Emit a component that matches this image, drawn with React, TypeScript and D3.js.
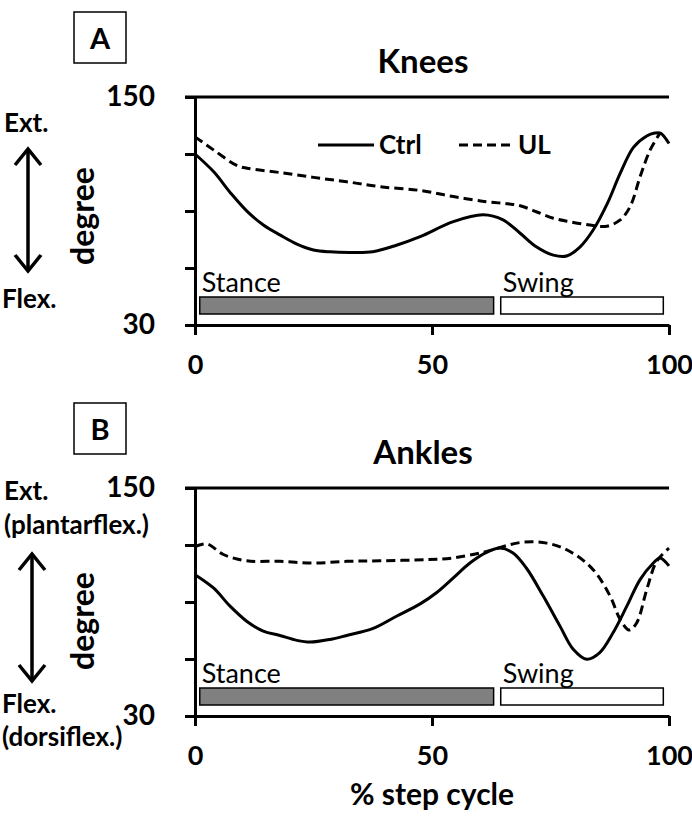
import * as d3 from 'd3'
import { useEffect, useRef } from 'react'

const W = 692, H = 827
const FONT = 'Lato, "Open Sans", sans-serif'

// % step cycle vs joint angle (deg)
const kneeCtrl = [
  [0, 120], [4, 110.5], [7.5, 99.5], [11, 89.8], [14.5, 82.5], [18, 77.3], [21.5, 72.6],
  [25, 69.5], [28.5, 68.5], [33, 68.2], [37.5, 68.6], [42.5, 72], [47.5, 76.5], [54.5, 84.4],
  [60.8, 88], [65, 85.3], [68.6, 78.3], [72, 71.2], [75.6, 66.8], [78.4, 66.3], [81.2, 71],
  [84, 80], [87, 94], [89.7, 109.8], [92.5, 123.5], [95.3, 129.5], [97, 131], [98.2, 131], [100, 125.5],
]
const kneeUL = [
  [0, 129], [4, 122], [8.8, 114], [11, 112.5], [18, 110.2], [25, 107.7], [32, 105.4],
  [39, 102.8], [47.5, 100.8], [54.5, 97.6], [61.5, 94.9], [66, 93.8], [68.6, 92.8], [72, 89.6],
  [75.6, 86.2], [79, 84.4], [83.3, 82.6], [86.9, 82], [89.7, 85.3], [91.8, 92.3], [93.9, 108],
  [96, 122], [98.1, 131],
]
const ankleCtrl = [
  [0, 104.4], [3.9, 97.4], [7.4, 87.8], [10.9, 79.9], [14.4, 74.7], [17.9, 72.4], [21.5, 69.8],
  [24.3, 68.9], [28.5, 70.3], [32, 72.4], [37.6, 76.1], [42.5, 82.5], [47.5, 89], [51, 95],
  [54.5, 102.7], [58, 110.5], [61.5, 116.1], [64.3, 118.4], [67.1, 115.8], [69.9, 107.9],
  [73.5, 93], [77, 77.3], [79.8, 65.1], [82.6, 59.9], [85.4, 63.4], [88.2, 73.8], [91.1, 87.8],
  [93.9, 101.8], [96.7, 110.5], [98.1, 113.2], [100, 109],
]
const ankleUL = [
  [0, 119.2], [2.5, 120.6], [6, 115], [10.9, 111.7], [17.9, 111.4], [25, 110.5], [32, 111.4],
  [39, 111.7], [49, 112.3], [54.5, 113.2], [61.5, 116.6], [68.6, 121.3], [74.2, 121],
  [79.1, 116.6], [84, 107], [87.6, 93], [89.7, 80.8], [91.6, 75.2], [93.2, 79.1], [95.3, 96.5],
  [97.4, 111.4], [100, 118.4],
]

const phases = [
  { name: 'Stance', from: 1, to: 63, fill: '#808080' },
  { name: 'Swing', from: 64.5, to: 98.8, fill: '#ffffff' },
]
const yTicks = [30, 60, 90, 120, 150]
const xTicks = [0, 50, 100]

const panels = [
  { tag: 'A', title: 'Knees', ctrl: kneeCtrl, ul: kneeUL, off: 0, legend: true,
    ext: ['Ext.'], flex: ['Flex.'] },
  { tag: 'B', title: 'Ankles', ctrl: ankleCtrl, ul: ankleUL, off: 391, legend: false,
    ext: ['Ext.', '(plantarflex.)'], flex: ['Flex.', '(dorsiflex.)'] },
]

const x = d3.scaleLinear().domain([0, 100]).range([195, 669])

const chart = (node: SVGSVGElement) => {
  const svg = d3.select(node)
  svg.selectAll('*').remove()
  svg.attr('font-family', FONT)

  panels.forEach(p => {
    const g = svg.append('g').attr('transform', `translate(0,${p.off})`)
    const y = d3.scaleLinear().domain([30, 150]).range([325, 97])

    // letter box
    g.append('rect').attr('x', 74).attr('y', 12).attr('width', 52).attr('height', 51)
      .attr('fill', 'none').attr('stroke', '#000').attr('stroke-width', 1.5)
    g.append('text').attr('x', 100).attr('y', 49).attr('text-anchor', 'middle')
      .attr('font-size', 29).attr('font-weight', 700).text(p.tag)

    g.append('text').attr('x', 423).attr('y', 73).attr('text-anchor', 'middle')
      .attr('font-size', 33).attr('font-weight', 700).text(p.title)

    // y axis
    const ya = g.append('g').attr('transform', `translate(${x(0)},0)`)
      .call(d3.axisLeft(y).tickValues(yTicks).tickSize(10).tickSizeOuter(0).tickPadding(30)
        .tickFormat(d => (d === 30 || d === 150 ? String(d) : '')))
    ya.select('.domain').attr('stroke-width', 3)
    ya.selectAll('.tick line').attr('stroke-width', 3)
    ya.selectAll('.tick text').attr('font-size', 28).attr('font-weight', 700)
      .attr('font-family', FONT).attr('fill', '#000')

    // top line at 150
    g.append('line').attr('x1', x(0) - 10).attr('x2', x(100))
      .attr('y1', y(150)).attr('y2', y(150)).attr('stroke', '#000').attr('stroke-width', 3)

    // x axis
    const xa = g.append('g').attr('transform', `translate(0,${y(30)})`)
      .call(d3.axisBottom(x).tickValues(xTicks).tickSize(10).tickSizeOuter(0).tickPadding(20))
    xa.select('.domain').attr('stroke-width', 3)
    xa.selectAll('.tick line').attr('stroke-width', 3)
    xa.selectAll('.tick text').attr('font-size', 27).attr('font-weight', 700)
      .attr('font-family', FONT).attr('fill', '#000')

    // phase bars
    phases.forEach(ph => {
      g.append('rect').attr('x', x(ph.from)).attr('y', y(30) - 28)
        .attr('width', x(ph.to) - x(ph.from)).attr('height', 17)
        .attr('fill', ph.fill).attr('stroke', '#000').attr('stroke-width', 1.5)
      g.append('text').attr('x', x(ph.from) + 2).attr('y', y(30) - 33)
        .attr('font-size', 27).text(ph.name)
    })

    // curves
    const line = d3.line<number[]>().x(d => x(d[0])).y(d => y(d[1]))
      .curve(d3.curveCatmullRom.alpha(0.5))
    g.append('path').datum(p.ul).attr('d', line).attr('fill', 'none')
      .attr('stroke', '#000').attr('stroke-width', 3).attr('stroke-dasharray', '9,5')
    g.append('path').datum(p.ctrl).attr('d', line).attr('fill', 'none')
      .attr('stroke', '#000').attr('stroke-width', 3)

    // y label
    g.append('text').attr('transform', `translate(94,${p.legend ? 216 : 230}) rotate(-90)`)
      .attr('text-anchor', 'middle').attr('font-size', 32).attr('font-weight', 700).text('degree')

    // ext / flex annotation
    const two = p.ext.length > 1
    p.ext.forEach((t, i) => {
      g.append('text').attr('x', 4).attr('y', (two ? 109 : 132) + i * 34)
        .attr('font-size', 26).attr('font-weight', 700).text(t)
    })
    p.flex.forEach((t, i) => {
      g.append('text').attr('x', 2).attr('y', (two ? 322 : 308) + i * 33)
        .attr('font-size', 26).attr('font-weight', 700).text(t)
    })
    const ax = two ? 32 : 28
    const a0 = two ? 162 : 148, a1 = two ? 291 : 272
    const arrow = g.append('g').attr('fill', 'none').attr('stroke', '#000').attr('stroke-width', 3.5)
    arrow.append('line').attr('x1', ax).attr('x2', ax).attr('y1', a0 + 1).attr('y2', a1 - 1)
    arrow.append('path').attr('d', `M${ax - 13},${a0 + 17}L${ax},${a0 + 1}L${ax + 13},${a0 + 17}`)
    arrow.append('path').attr('d', `M${ax - 13},${a1 - 17}L${ax},${a1 - 1}L${ax + 13},${a1 - 17}`)

    if (p.legend) {
      const lg = g.append('g')
      lg.append('line').attr('x1', 318).attr('x2', 374).attr('y1', 145).attr('y2', 145)
        .attr('stroke', '#000').attr('stroke-width', 3)
      lg.append('text').attr('x', 379).attr('y', 154).attr('font-size', 26)
        .attr('font-weight', 700).text('Ctrl')
      lg.append('line').attr('x1', 459).attr('x2', 513).attr('y1', 145).attr('y2', 145)
        .attr('stroke', '#000').attr('stroke-width', 3).attr('stroke-dasharray', '9,5')
      lg.append('text').attr('x', 518).attr('y', 154).attr('font-size', 26)
        .attr('font-weight', 700).text('UL')
    }
  })

  svg.append('text').attr('x', 432).attr('y', 805).attr('text-anchor', 'middle')
    .attr('font-size', 30).attr('font-weight', 700).text('% step cycle')
}

export default function App() {
  const ref = useRef<SVGSVGElement>(null)
  useEffect(() => {
    if (ref.current) chart(ref.current)
  }, [])
  return (
    <svg ref={ref} width={W} height={H} viewBox={`0 0 ${W} ${H}`}
      style={{ position: 'absolute', left: 0, top: 0, background: '#fff' }} />
  )
}
